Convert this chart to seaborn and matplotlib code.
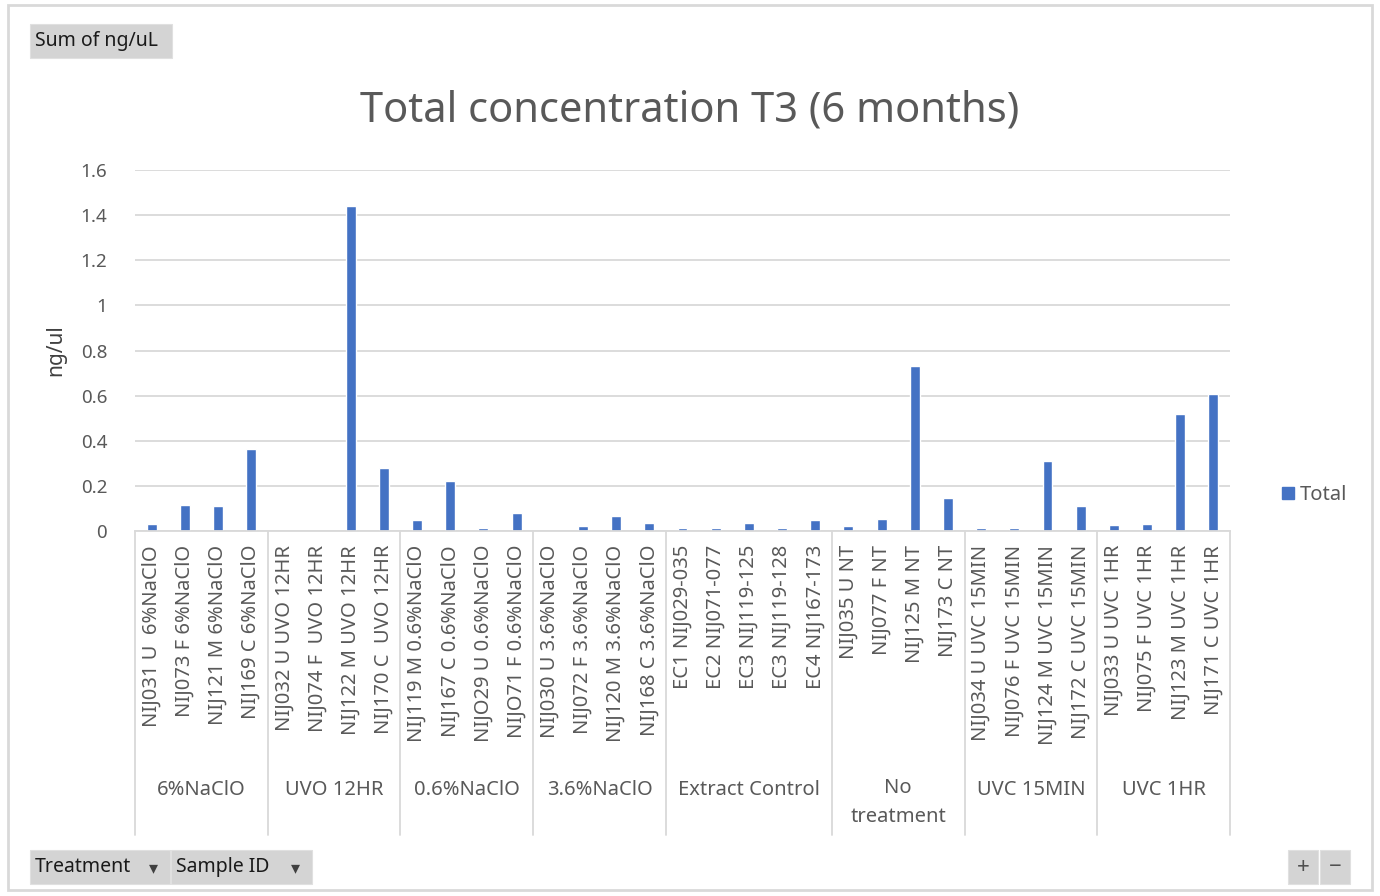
import matplotlib
matplotlib.use("Agg")
import matplotlib.pyplot as plt
import matplotlib.transforms as mtransforms
from matplotlib.patches import Rectangle
import seaborn as sns
import pandas as pd

# ---------------- data ----------------
treatments = ["6%NaClO", "UVO 12HR", "0.6%NaClO", "3.6%NaClO",
              "Extract Control", "No\ntreatment", "UVC 15MIN", "UVC 1HR"]
group_sizes = [4, 4, 4, 4, 5, 4, 4, 4]
sample_ids = [
    "NIJ031 U  6%NaClO", "NIJ073 F 6%NaClO", "NIJ121 M 6%NaClO", "NIJ169 C 6%NaClO",
    "NIJ032 U UVO 12HR", "NIJ074 F  UVO 12HR", "NIJ122 M UVO 12HR", "NIJ170 C  UVO 12HR",
    "NIJ119 M 0.6%NaClO", "NIJ167 C 0.6%NaClO", "NIJO29 U 0.6%NaClO", "NIJO71 F 0.6%NaClO",
    "NIJ030 U 3.6%NaClO", "NIJ072 F 3.6%NaClO", "NIJ120 M 3.6%NaClO", "NIJ168 C 3.6%NaClO",
    "EC1 NIJ029-035", "EC2 NIJ071-077", "EC3 NIJ119-125", "EC3 NIJ119-128", "EC4 NIJ167-173",
    "NIJ035 U NT", "NIJ077 F NT", "NIJ125 M NT", "NIJ173 C NT",
    "NIJ034 U UVC 15MIN", "NIJ076 F UVC 15MIN", "NIJ124 M UVC 15MIN", "NIJ172 C UVC 15MIN",
    "NIJ033 U UVC 1HR", "NIJ075 F UVC 1HR", "NIJ123 M UVC 1HR", "NIJ171 C UVC 1HR",
]
totals = [
    0.03, 0.115, 0.11, 0.365,
    0.0, 0.0, 1.44, 0.28,
    0.05, 0.22, 0.015, 0.08,
    0.0, 0.02, 0.065, 0.035,
    0.012, 0.012, 0.035, 0.012, 0.05,
    0.02, 0.055, 0.73, 0.145,
    0.012, 0.012, 0.31, 0.11,
    0.025, 0.03, 0.52, 0.605,
]
y_ticks = [0, 0.2, 0.4, 0.6, 0.8, 1.0, 1.2, 1.4, 1.6]
y_tick_labels = ["0", "0.2", "0.4", "0.6", "0.8", "1", "1.2", "1.4", "1.6"]

df = pd.DataFrame({"Sample ID": sample_ids, "Total": totals})

# ---------------- style ----------------
sns.set_theme(style="white")
plt.rcParams["font.family"] = ["Noto Sans", "DejaVu Sans"]
TXT = "#595959"
GRID = "#D9D9D9"
BLUE = "#4472C4"

W, H = 1380, 896
fig = plt.figure(figsize=(W / 100, H / 100), dpi=100)
ax_l, ax_r, ax_t, ax_b = 135, 1230, 170, 531
ax = fig.add_axes([ax_l / W, 1 - ax_b / H, (ax_r - ax_l) / W, (ax_b - ax_t) / H])

sns.barplot(data=df, x="Sample ID", y="Total", color=BLUE, width=0.3,
            saturation=1, ax=ax, order=sample_ids)

ax.set_xlim(-0.5, len(sample_ids) - 0.5)
ax.set_ylim(0, 1.6)
ax.set_yticks(y_ticks)
ax.set_yticklabels(y_tick_labels, fontsize=13.5, color=TXT)
ax.yaxis.grid(True, color=GRID, linewidth=1.3)
ax.set_axisbelow(True)
for s in ["top", "right", "left"]:
    ax.spines[s].set_visible(False)
ax.spines["bottom"].set_color(GRID)
ax.spines["bottom"].set_linewidth(1.3)
ax.tick_params(axis="y", length=0, pad=20)
ax.tick_params(axis="x", length=0, pad=10)
ax.set_xticks(range(len(sample_ids)))
ax.set_xticklabels(sample_ids, rotation=90, fontsize=14.5, color=TXT, va="top", ha="center")
ax.set_xlabel("")
ax.set_ylabel("ng/ul", fontsize=15, color="#404040", fontweight="bold", labelpad=8)
ax.yaxis.set_label_coords((66 - ax_l) / (ax_r - ax_l), 1 - (350 - ax_t) / (ax_b - ax_t))

# group separators and group labels
trans = mtransforms.blended_transform_factory(ax.transData, ax.transAxes)
sep_bottom = -(835 - ax_b) / (ax_b - ax_t)
label_y = -(790 - ax_b) / (ax_b - ax_t)
start = 0
bounds = [-0.5]
for name, n in zip(treatments, group_sizes):
    end = start + n
    bounds.append(end - 0.5)
    center = (start + end - 1) / 2
    t = ax.text(center, label_y, name, transform=trans, ha="center", va="center",
                fontsize=14.5, color=TXT, linespacing=1.6)
    if "\n" in name:
        t.set_va("top")
        t.set_y(-(778 - ax_b) / (ax_b - ax_t))
    start = end
for b in bounds:
    ax.plot([b, b], [0, sep_bottom], transform=trans, color=GRID, lw=1.3,
            clip_on=False)

# title
fig.text(690 / W, 1 - 111 / H, "Total concentration T3 (6 months)",
         ha="center", va="center", fontsize=30, color=TXT)

# legend
leg = ax.legend(handles=[Rectangle((0, 0), 1, 1, color=BLUE)], labels=["Total"],
                loc="center left", bbox_to_anchor=(1264 / W, 1 - 495 / H),
                bbox_transform=fig.transFigure, frameon=False, fontsize=14.5,
                handlelength=0.6, handleheight=0.6, handletextpad=0.3,
                labelcolor=TXT)

# outer chart border
fig.patches.append(Rectangle((8 / W, 1 - 890 / H), (1372 - 8) / W, (890 - 5) / H,
                             transform=fig.transFigure, fill=False,
                             edgecolor="#D9D9D9", lw=2))

# pivot buttons
def button(x0, y0, x1, y1, text, arrow=False, ha="left"):
    fig.patches.append(Rectangle((x0 / W, 1 - y1 / H), (x1 - x0) / W, (y1 - y0) / H,
                                 transform=fig.transFigure, facecolor="#D4D4D4",
                                 edgecolor="#E0E0E0", lw=0.8))
    if ha == "center":
        fig.text((x0 + x1) / 2 / W, 1 - (y0 + y1) / 2 / H, text, ha="center",
                 va="center", fontsize=16, color="#505050")
    else:
        fig.text((x0 + 5) / W, 1 - (y0 + y1) / 2 / H, text, ha="left",
                 va="center", fontsize=14, color="#1a1a1a")
    if arrow:
        fig.text((x1 - 17) / W, 1 - (y0 + y1 + 2) / 2 / H, "▾", ha="center",
                 va="center", fontsize=13, color="#404040", family=["DejaVu Sans"])

button(30, 24, 172, 58, "Sum of ng/uL")
button(30, 850, 170, 884, "Treatment", arrow=True)
button(171, 850, 312, 884, "Sample ID", arrow=True)
button(1288, 850, 1318, 884, "+", ha="center")
button(1320, 850, 1350, 884, "−", ha="center")

fig.savefig("out.png", dpi=100)
